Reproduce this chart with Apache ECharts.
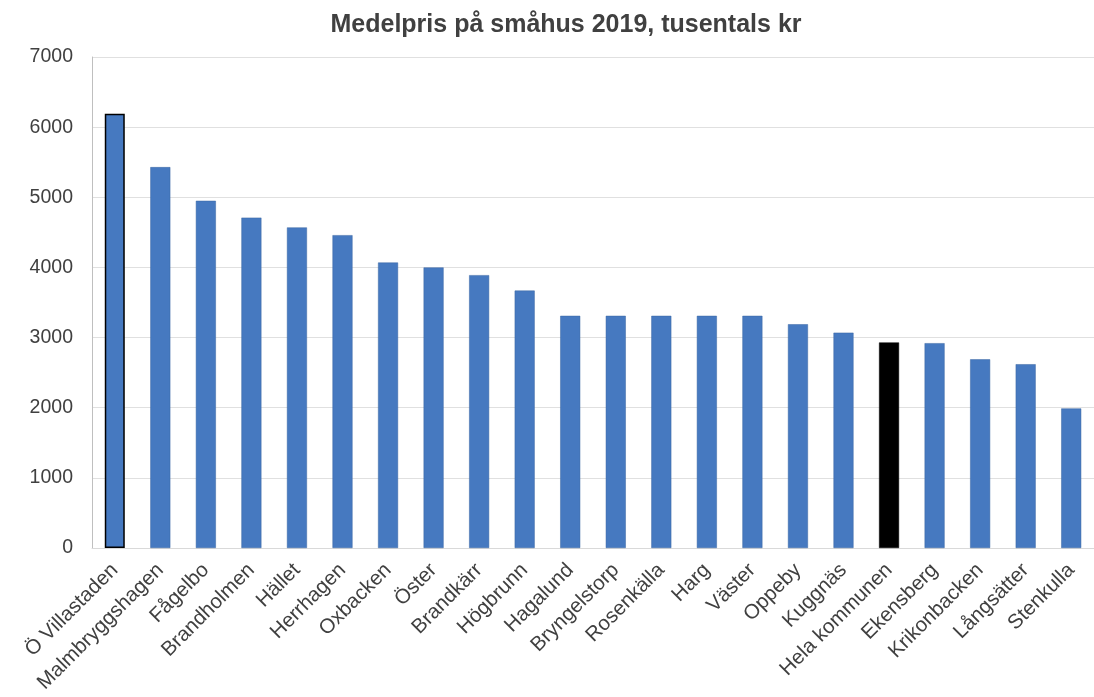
<!DOCTYPE html>
<html>
<head>
<meta charset="utf-8">
<script src="https://cdn.jsdelivr.net/npm/echarts@6/dist/echarts.min.js"></script>
<style>html,body{margin:0;padding:0;background:#fff}#c{width:1094px;height:697px}</style>
</head>
<body>
<div id="c"></div>
<script>
const titleText = 'Medelpris på småhus 2019, tusentals kr';
const categories = ['Ö Villastaden','Malmbryggshagen','Fågelbo','Brandholmen','Hället','Herrhagen','Oxbacken','Öster','Brandkärr','Högbrunn','Hagalund','Bryngelstorp','Rosenkälla','Harg','Väster','Oppeby','Kuggnäs','Hela kommunen','Ekensberg','Krikonbacken','Långsätter','Stenkulla'];
const values = [6190,5430,4950,4710,4570,4460,4070,4000,3890,3670,3310,3310,3310,3310,3310,3190,3070,2930,2920,2690,2620,1990];
const highlightBorder = 'Ö Villastaden';
const highlightFill = 'Hela kommunen';

const data = categories.map((c, i) => {
  const d = { value: values[i] };
  if (c === highlightFill) d.itemStyle = { color: '#000000', borderColor: '#000000' };
  if (c === highlightBorder) d.itemStyle = { borderColor: '#000000', borderWidth: 1.5 };
  return d;
});

const FONT = 'Liberation Sans, Arial, sans-serif';
const chart = echarts.init(document.getElementById('c'), null, { renderer: 'canvas' });
chart.setOption({
  animation: false,
  backgroundColor: '#ffffff',
  title: {
    text: titleText, left: 561, top: 8, textAlign: 'center',
    textStyle: { fontFamily: FONT, fontSize: 25, fontWeight: 'bold', color: '#404040' }
  },
  grid: { left: 92, right: -3, top: 57, bottom: 149, containLabel: false },
  xAxis: {
    type: 'category', data: categories,
    axisLine: { show: true, lineStyle: { color: '#d9d9d9' } },
    axisTick: { show: false },
    axisLabel: {
      rotate: 45, interval: 0, margin: 19,
      fontFamily: FONT, fontSize: 20.5, color: '#404040'
    }
  },
  yAxis: {
    type: 'value', min: 0, max: 7000, interval: 1000,
    axisLine: { show: true, lineStyle: { color: '#bfbfbf' } },
    axisTick: { show: false },
    axisLabel: { margin: 19, fontFamily: FONT, fontSize: 19.5, color: '#404040', formatter: v => String(v) },
    splitLine: { lineStyle: { color: '#e0e0e0' } }
  },
  series: [{
    type: 'bar', data: data, barWidth: 20,
    itemStyle: { color: '#4679c0', borderColor: '#3a66a3', borderWidth: 0.5 }
  }]
});
</script>
</body>
</html>
